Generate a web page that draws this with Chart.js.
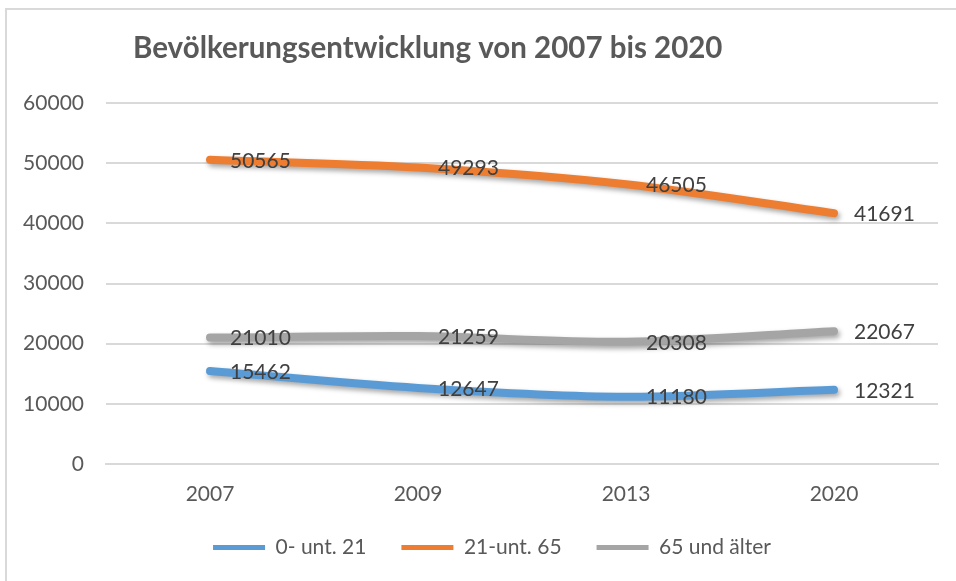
<!DOCTYPE html>
<html>
<head>
<meta charset="utf-8">
<script src="https://cdn.jsdelivr.net/npm/chart.js@4/dist/chart.umd.min.js"></script>
<style>
  html, body { margin: 0; padding: 0; background: #fff; }
  #wrap { width: 956px; height: 581px; position: relative; }
</style>
</head>
<body>
<div id="wrap"><canvas id="c" width="956" height="581"></canvas></div>
<script>
const titleText = "Bevölkerungsentwicklung von 2007 bis 2020";
const categories = ["2007", "2009", "2013", "2020"];
const seriesNames = ["0- unt. 21", "21-unt. 65", "65 und älter"];
const young = [15462, 12647, 11180, 12321];
const middle = [50565, 49293, 46505, 41691];
const old = [21010, 21259, 20308, 22067];
const yTicks = [0, 10000, 20000, 30000, 40000, 50000, 60000];
const colors = ["#5B9BD5", "#ED7D31", "#A5A5A5"];

const FONT = "Lato, 'Noto Sans', sans-serif";

const framePlugin = {
  id: 'frame',
  afterLayout(chart) {
    // shift the legend slightly right, as in the reference
    const lg = chart.legend;
    if (lg) { lg.left += 20; lg.right += 20; }
  },
  beforeDraw(chart) {
    const ctx = chart.ctx;
    ctx.save();
    ctx.fillStyle = '#fff';
    ctx.fillRect(0, 0, chart.width, chart.height);
    ctx.strokeStyle = '#D9D9D9';
    ctx.lineWidth = 2;
    ctx.beginPath();
    ctx.moveTo(6, chart.height);
    ctx.lineTo(6, 9);
    ctx.lineTo(chart.width, 9);
    ctx.stroke();
    // title
    ctx.fillStyle = '#595959';
    ctx.font = "bold 29.5px " + FONT;
    ctx.textBaseline = 'middle';
    ctx.textAlign = 'left';
    ctx.fillText(titleText, 133, 48);
    ctx.restore();
  }
};

const shadowPlugin = {
  id: 'shadow',
  beforeDatasetDraw(chart) {
    const ctx = chart.ctx;
    ctx.save();
    ctx.shadowColor = 'rgba(0,0,0,0.35)';
    ctx.shadowBlur = 5;
    ctx.shadowOffsetX = 2;
    ctx.shadowOffsetY = 3;
  },
  afterDatasetDraw(chart) {
    chart.ctx.restore();
  }
};

const labelPlugin = {
  id: 'valueLabels',
  afterDatasetsDraw(chart) {
    const ctx = chart.ctx;
    ctx.save();
    ctx.font = "21px " + FONT;
    ctx.fillStyle = '#404040';
    ctx.textAlign = 'left';
    ctx.textBaseline = 'middle';
    chart.data.datasets.forEach((ds, i) => {
      const meta = chart.getDatasetMeta(i);
      meta.data.forEach((pt, j) => {
        ctx.fillText(String(ds.data[j]), pt.x + 20, pt.y + 1);
      });
    });
    ctx.restore();
  }
};

const data = {
  labels: categories,
  datasets: [young, middle, old].map((arr, i) => ({
    label: seriesNames[i],
    data: arr,
    borderColor: colors[i],
    backgroundColor: colors[i],
    borderWidth: 8,
    borderCapStyle: 'round',
    borderJoinStyle: 'round',
    pointRadius: 0,
    pointHoverRadius: 0,
    tension: 0.3,
    fill: false
  }))
};

new Chart(document.getElementById('c'), {
  type: 'line',
  data,
  plugins: [framePlugin, shadowPlugin, labelPlugin],
  options: {
    responsive: false,
    animation: false,
    events: [],
    layout: { padding: { top: 103, left: 6, right: 18, bottom: 13 } },
    plugins: {
      title: { display: false },
      tooltip: { enabled: false },
      legend: {
        display: true,
        position: 'bottom',
        labels: {
          font: { family: FONT, size: 21 },
          color: '#595959',
          boxWidth: 52,
          boxHeight: 5,
          padding: 35,
          generateLabels(chart) {
            return chart.data.datasets.map((ds, i) => ({
              text: ds.label,
              fillStyle: ds.borderColor,
              strokeStyle: ds.borderColor,
              lineWidth: 0,
              fontColor: '#595959',
              hidden: false,
              datasetIndex: i
            }));
          }
        }
      }
    },
    scales: {
      x: {
        offset: true,
        grid: { display: false, drawTicks: false },
        border: { display: true, color: '#D9D9D9', width: 2 },
        ticks: { font: { family: FONT, size: 21 }, color: '#595959', padding: 18 },
        afterFit(s) { s.height = 38; }
      },
      y: {
        min: 0,
        max: 60000,
        afterBuildTicks(s) { s.ticks = yTicks.map(v => ({ value: v })); },
        grid: { color: '#D9D9D9', lineWidth: 2, drawTicks: false },
        border: { display: false },
        ticks: {
          font: { family: FONT, size: 21 }, color: '#595959', padding: 22,
          callback: v => String(v)
        },
        afterFit(s) { s.width = 100; }
      }
    }
  }
});
</script>
</body>
</html>
